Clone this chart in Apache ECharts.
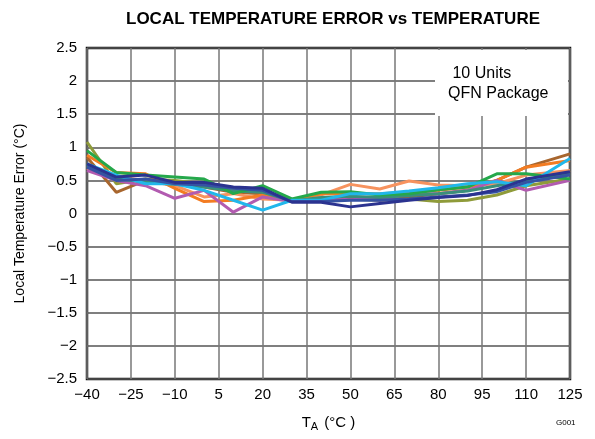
<!DOCTYPE html>
<html><head><meta charset="utf-8">
<script src="https://cdn.jsdelivr.net/npm/echarts@6/dist/echarts.min.js"></script>
<style>html,body{margin:0;padding:0;background:#fff}#c{width:595px;height:439px}</style>
</head><body><div id="c"></div>
<script>
const temps = [-40,-30,-20,-10,0,10,20,30,40,50,60,70,80,90,100,110,125];
const xTicks = [-40,-25,-10,5,20,35,50,65,80,95,110,125];
const yTicks = [-2.5,-2,-1.5,-1,-0.5,0,0.5,1,1.5,2,2.5];
const unitOlive  = [1.08,0.45,0.52,0.50,0.45,0.38,0.35,0.20,0.20,0.22,0.20,0.22,0.18,0.20,0.28,0.42,0.52];
const unitBrown  = [0.85,0.32,0.50,0.45,0.40,0.32,0.30,0.18,0.22,0.25,0.22,0.25,0.30,0.35,0.50,0.70,0.90];
const unitSalmon = [0.68,0.55,0.50,0.42,0.25,0.30,0.22,0.20,0.28,0.44,0.37,0.49,0.43,0.42,0.45,0.58,0.65];
const unitOrange = [0.88,0.62,0.60,0.38,0.18,0.20,0.28,0.20,0.30,0.30,0.30,0.32,0.35,0.40,0.50,0.70,0.80];
const unitPurple = [0.65,0.50,0.42,0.23,0.35,0.02,0.25,0.18,0.20,0.25,0.20,0.30,0.30,0.35,0.50,0.35,0.50];
const unitTeal   = [0.72,0.52,0.48,0.44,0.40,0.34,0.32,0.19,0.24,0.26,0.24,0.27,0.30,0.34,0.42,0.50,0.60];
const unitGreen  = [0.95,0.62,0.58,0.55,0.52,0.30,0.42,0.22,0.32,0.33,0.28,0.30,0.36,0.40,0.60,0.60,0.52];
const unitCyan   = [0.75,0.58,0.45,0.45,0.35,0.20,0.05,0.20,0.20,0.30,0.30,0.34,0.39,0.45,0.48,0.42,0.83];
const unitBlue   = [0.70,0.50,0.52,0.45,0.43,0.38,0.35,0.18,0.18,0.20,0.20,0.22,0.25,0.28,0.33,0.47,0.58];
const unitNavy   = [0.75,0.55,0.58,0.47,0.47,0.40,0.38,0.17,0.17,0.10,0.15,0.20,0.24,0.27,0.36,0.52,0.63];

const seriesDefs = [
  ['Unit 1', unitOlive, '#8f9b3a'],
  ['Unit 2', unitBrown, '#a8662e'],
  ['Unit 3', unitSalmon, '#f7935f'],
  ['Unit 4', unitOrange, '#f37c22'],
  ['Unit 5', unitPurple, '#b25bb0'],
  ['Unit 6', unitTeal, '#3a8f7a'],
  ['Unit 7', unitGreen, '#25a84b'],
  ['Unit 8', unitCyan, '#21b7eb'],
  ['Unit 9', unitBlue, '#3552a3'],
  ['Unit 10', unitNavy, '#2b3390']
];
const FONT = 'Liberation Sans, Arial, sans-serif';
const fmt = v => String(v).replace('-', '\u2212');

const chart = echarts.init(document.getElementById('c'), null, {renderer:'canvas'});
chart.setOption({
  animation: false,
  backgroundColor: '#fff',
  title: {
    text: 'LOCAL TEMPERATURE ERROR vs TEMPERATURE',
    left: 328, top: 6, textAlign: 'center',
    textStyle: {fontFamily: FONT, fontSize: 17, fontWeight: 'bold', color: '#000'}
  },
  grid: {left: 87, right: 25, top: 48, bottom: 60, show: true, borderColor: '#111', borderWidth: 2.5},
  xAxis: {
    type: 'value', min: xTicks[0], max: xTicks[xTicks.length-1], interval: 15,
    name: '{t|T}{s|A}{t| (°C )}', nameLocation: 'middle', nameGap: 34,
    nameTextStyle: {rich: {
      t: {fontFamily: FONT, fontSize: 15, color: '#000'},
      s: {fontFamily: FONT, fontSize: 11, color: '#000', verticalAlign: 'bottom', padding: [8,2,0,0]}
    }},
    axisLine: {show: false}, axisTick: {show: false},
    axisLabel: {fontFamily: FONT, fontSize: 15, color: '#000', margin: 8, formatter: fmt},
    splitLine: {lineStyle: {color: '#777', width: 1.5}}
  },
  yAxis: {
    type: 'value', min: yTicks[0], max: yTicks[yTicks.length-1], interval: 0.5,
    name: 'Local Temperature Error (°C)', nameLocation: 'middle', nameGap: 60,
    nameTextStyle: {fontFamily: FONT, fontSize: 14, color: '#000'},
    axisLine: {show: false}, axisTick: {show: false},
    axisLabel: {fontFamily: FONT, fontSize: 15, color: '#000', margin: 10, formatter: fmt},
    splitLine: {lineStyle: {color: '#555', width: 1.5}}
  },
  graphic: [
    {type: 'rect', z: 1, shape: {x: 435, y: 50, width: 133, height: 66}, style: {fill: '#fff'}},
    {type: 'text', z: 1, left: 448, top: 64, style: {text: ' 10 Units\nQFN Package', font: '16px ' + FONT, fill: '#000', lineHeight: 20}},
    {type: 'text', z: 1, left: 556, top: 419, style: {text: 'G001', font: '8px ' + FONT, fill: '#000'}}
  ],
  series: seriesDefs.map(([name, vals, color]) => ({
    name, type: 'line', showSymbol: false, z: 2,
    data: temps.map((t, i) => [t, vals[i]]),
    lineStyle: {color, width: 3}
  }))
});
</script></body></html>
